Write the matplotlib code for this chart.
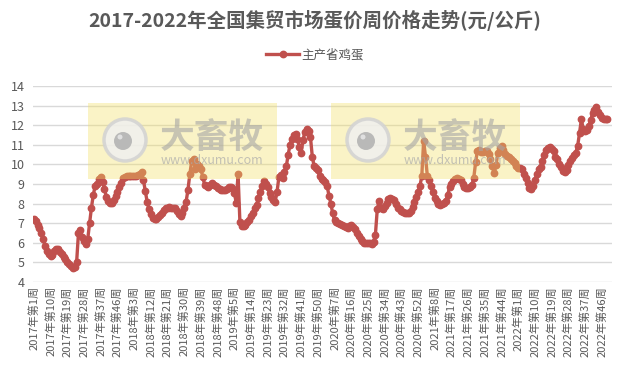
import matplotlib
matplotlib.use("Agg")
import matplotlib.pyplot as plt
from matplotlib.patches import Rectangle, Circle
from matplotlib.lines import Line2D

plt.rcParams['font.family'] = ['Noto Sans CJK SC', 'DejaVu Sans']

TITLE = "2017-2022年全国集贸市场蛋价周价格走势(元/公斤)"
SERIES_NAME = "主产省鸡蛋"
YEARS = [2017, 2018, 2019, 2020, 2021, 2022]

p2017 = [7.2, 7.1, 6.9, 6.75, 6.5, 6.2, 5.85, 5.6, 5.45, 5.35, 5.4, 5.6, 5.7, 5.7, 5.55, 5.45,
         5.3, 5.15, 5.0, 4.9, 4.8, 4.72, 4.75, 5.0, 6.5, 6.65, 6.3, 6.1, 5.95, 6.2, 7.0, 7.8,
         8.45, 8.9, 9.0, 9.25, 9.35, 9.1, 8.75, 8.35, 8.15, 8.05, 8.05, 8.2, 8.4, 8.6, 8.85, 9.05,
         9.3, 9.35, 9.4, 9.4]
p2018 = [9.4, 9.4, 9.4, 9.42, 9.45, 9.5, 9.6, 9.2, 8.65, 8.1, 7.7, 7.45, 7.25, 7.2, 7.2, 7.3,
         7.4, 7.5, 7.65, 7.75, 7.8, 7.85, 7.8, 7.78, 7.75, 7.6, 7.45, 7.35, 7.5, 7.8, 8.1, 8.7,
         9.5, 10.15, 10.25, 9.75, 10.0, 9.9, 9.75, 9.35, 8.95, 8.9, 8.85, 8.95, 9.05, 8.95, 8.9, 8.8,
         8.75, 8.7, 8.7, 8.7]
p2019 = [8.72, 8.85, 8.85, 8.8, 8.55, 8.05, 9.5, 7.05, 6.85, 6.85, 6.9, 7.05, 7.15, 7.35, 7.5, 7.75,
         7.95, 8.3, 8.6, 8.9, 9.15, 9.0, 8.85, 8.55, 8.35, 8.2, 8.1, 8.6, 9.35, 9.45, 9.3, 9.6,
         9.9, 10.5, 11.0, 11.3, 11.5, 11.55, 11.3, 10.9, 10.6, 11.25, 11.65, 11.8, 11.7, 11.4, 10.4, 9.9,
         9.8, 9.7, 9.4, 9.25]
p2020 = [9.2, 9.1, 8.9, 8.4, 8.0, 7.5, 7.15, 7.05, 7.0, 6.95, 6.9, 6.85, 6.8, 6.75, 6.85, 6.9,
         6.8, 6.7, 6.5, 6.35, 6.2, 6.1, 6.0, 6.0, 5.98, 5.97, 5.95, 6.05, 6.4, 7.7, 8.15, 7.75,
         7.7, 7.9, 8.05, 8.25, 8.3, 8.25, 8.2, 8.0, 7.8, 7.7, 7.6, 7.55, 7.5, 7.5, 7.5, 7.6,
         7.85, 8.1, 8.35, 8.6, 8.9]
p2021 = [9.4, 11.2, 10.4, 9.4, 9.2, 8.9, 8.6, 8.3, 8.15, 8.0, 7.95, 8.0, 8.05, 8.15, 8.45, 8.85,
         9.0, 9.15, 9.25, 9.3, 9.25, 9.2, 9.0, 8.85, 8.8, 8.8, 8.85, 8.95, 9.3, 10.1, 10.7, 10.75,
         10.65, 10.65, 10.7, 10.7, 10.55, 10.3, 9.9, 9.55, 9.95, 10.6, 10.85, 10.95, 10.75, 10.55, 10.45, 10.4,
         10.25, 10.15, 10.05, 9.9]
p2022 = [9.8, 9.8, 9.75, 9.5, 9.3, 9.05, 8.8, 8.75, 8.9, 9.2, 9.5, 9.75, 9.85, 10.15, 10.5, 10.75,
         10.85, 10.88, 10.8, 10.7, 10.4, 10.3, 10.0, 9.85, 9.65, 9.6, 9.7, 9.95, 10.15, 10.35, 10.5, 10.6,
         10.95, 11.6, 12.3, 11.8, 11.7, 11.75, 11.95, 12.25, 12.6, 12.8, 12.95, 12.65, 12.5, 12.35, 12.3, 12.3,
         12.3]

yearly = [p2017, p2018, p2019, p2020, p2021, p2022]
values = []
labels = []
for yr, vals in zip(YEARS, yearly):
    for w, v in enumerate(vals, start=1):
        values.append(v)
        labels.append(f"{yr}年第{w}周")

Y_TICKS = [4, 5, 6, 7, 8, 9, 10, 11, 12, 13, 14]
LABEL_STEP = 9

W, H = 630, 375
fig = plt.figure(figsize=(W / 100, H / 100), dpi=100)
ax = fig.add_axes([33 / W, 1 - 282 / H, (612 - 33) / W, (282 - 86) / H])

LINE_COLOR = '#C0504D'
TXT = '#595959'
x = list(range(len(values)))
ax.plot(x, values, color=LINE_COLOR, lw=2.4, marker='o', ms=4.6,
        markerfacecolor=LINE_COLOR, markeredgecolor=LINE_COLOR, zorder=3)

ax.set_xlim(-0.5, 311.5)
ax.set_ylim(4, 14)
ax.set_yticks(Y_TICKS)
ax.set_yticklabels([str(t) for t in Y_TICKS], fontsize=9, color=TXT)
ax.grid(axis='y', color='#D9D9D9', lw=1)
ax.set_axisbelow(True)
for s in ax.spines.values():
    s.set_visible(False)
ticks = x[::LABEL_STEP]
ax.set_xticks(ticks)
ax.set_xticklabels([labels[i] for i in ticks], rotation=90, fontsize=8, color=TXT)
ax.tick_params(axis='both', length=0, pad=3)
ax.tick_params(axis='y', pad=6)

fig.text(0.5, 1 - 20 / H, TITLE, ha='center', va='center', fontsize=14,
         fontweight='bold', color=TXT)

handle = Line2D([], [], color=LINE_COLOR, lw=2.4, marker='o', ms=4.6)
fig.legend([handle], [SERIES_NAME], loc='center', bbox_to_anchor=(0.5, 1 - 55 / H),
           frameon=False, fontsize=9, labelcolor=TXT, handlelength=2.6, handletextpad=0.2)

# watermarks
def px(xp, yp):
    return (xp / W, 1 - yp / H)

for x0 in (88, 331):
    r = Rectangle(px(x0, 179), 189 / W, 76 / H, transform=fig.transFigure,
                  facecolor=(0.95, 0.88, 0.38), alpha=0.36, edgecolor='none',
                  zorder=10, clip_on=False)
    fig.add_artist(r)
    cx, cy = x0 + 37, 140
    fig.add_artist(Circle((cx, H - cy), 21, transform=None, facecolor='#F0F0F0',
                          edgecolor='#D2D2D2', lw=2.5, alpha=0.85, zorder=11))
    fig.add_artist(Circle((cx - 2, H - cy - 1), 9, transform=None, facecolor='#B0B0B0',
                          edgecolor='none', alpha=0.85, zorder=12))
    fig.add_artist(Circle((cx - 5, H - cy + 3), 2.5, transform=None, facecolor='#E8E8E8',
                          edgecolor='none', alpha=0.85, zorder=13))
    fig.text((x0 + 124) / W, 1 - 137 / H, "大畜牧", ha='center', va='center',
             fontsize=25, fontweight='bold', color='#A6A6A6', alpha=0.6, zorder=12)
    fig.text((x0 + 124) / W, 1 - 161 / H, "www.dxumu.com", ha='center', va='center',
             fontsize=9, color='#ABABAB', alpha=0.7, zorder=12)

fig.savefig("out.png", dpi=100, facecolor='white')
